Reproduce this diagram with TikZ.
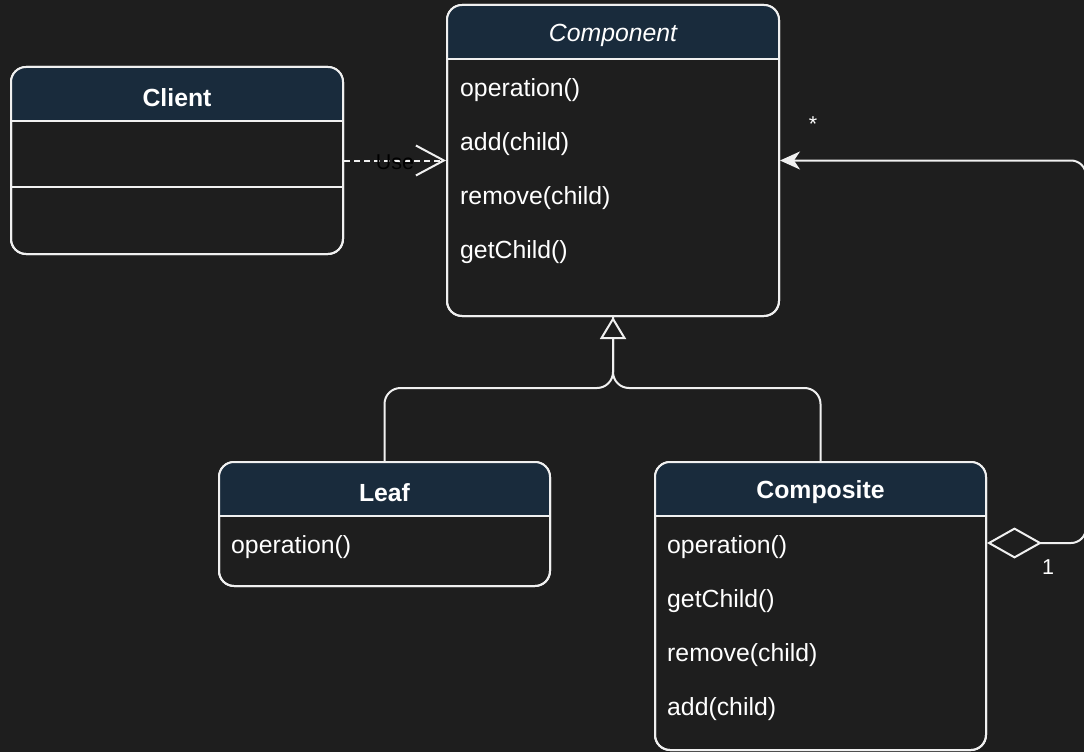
\documentclass[tikz,border=0pt]{standalone}
\usepackage{fontspec}
\setmainfont{Liberation Sans}
\usetikzlibrary{arrows.meta}
\definecolor{bgc}{RGB}{30,30,30}
\definecolor{hdrc}{RGB}{25,43,60}
\definecolor{edgec}{RGB}{240,240,240}
\begin{document}
\begin{tikzpicture}[x=1pt,y=-1pt,
  classbox/.style={draw=edgec, line width=2pt, rounded corners=15pt, inner sep=0pt, fill=bgc},
  hdr/.style={fill=hdrc},
  divider/.style={draw=edgec, line width=2pt},
  title/.style={text=white, font=\fontsize{24.8}{28}\selectfont\bfseries, inner sep=0pt},
  ititle/.style={text=white, font=\fontsize{24.8}{28}\selectfont\itshape, inner sep=0pt},
  member/.style={text=white, font=\fontsize{24.8}{28}\selectfont, anchor=west, inner sep=0pt},
  wire/.style={draw=edgec, line width=2pt},
  lbl/.style={text=white, font=\fontsize{21.5}{24}\selectfont, inner sep=0pt}
]
\useasboundingbox (0,0) rectangle (1084,752);
\fill[bgc] (0,0) rectangle (1084,752);

% ---- Client ----
\node[classbox, minimum width=332pt, minimum height=187pt] (client) at (177,160.5) {};
\begin{scope}
  \clip[rounded corners=15pt] (11,67) rectangle (343,254);
  \fill[hdr] (11,67) rectangle (343,121);
\end{scope}
\draw[classbox, fill=none] (11,67) rectangle (343,254);
\draw[divider] (11,121) -- (343,121);
\draw[divider] (11,187) -- (343,187);
\node[title] (clientT) at (177,97.5) {Client};

% ---- Component ----
\node[classbox, minimum width=332pt, minimum height=311pt] (component) at (613,160.5) {};
\begin{scope}
  \clip[rounded corners=15pt] (447,5) rectangle (779,316);
  \fill[hdr] (447,5) rectangle (779,59);
\end{scope}
\draw[classbox, fill=none] (447,5) rectangle (779,316);
\draw[divider] (447,59) -- (779,59);
\node[ititle] (componentT) at (613,35.5) {Component};
\node[member] (cm1) at (460,90) {operation()};
\node[member] (cm2) at (460,144) {add(child)};
\node[member] (cm3) at (460,198) {remove(child)};
\node[member] (cm4) at (460,252) {getChild()};

% ---- Leaf ----
\node[classbox, minimum width=331pt, minimum height=124pt] (leaf) at (384.5,524) {};
\begin{scope}
  \clip[rounded corners=15pt] (219,462) rectangle (550,586);
  \fill[hdr] (219,462) rectangle (550,516);
\end{scope}
\draw[classbox, fill=none] (219,462) rectangle (550,586);
\draw[divider] (219,516) -- (550,516);
\node[title] (leafT) at (384.5,492.5) {Leaf};
\node[member] (lm1) at (231,547) {operation()};

% ---- Composite ----
\node[classbox, minimum width=331pt, minimum height=288pt] (composite) at (820.5,606) {};
\begin{scope}
  \clip[rounded corners=15pt] (655,462) rectangle (986,750);
  \fill[hdr] (655,462) rectangle (986,516);
\end{scope}
\draw[classbox, fill=none] (655,462) rectangle (986,750);
\draw[divider] (655,516) -- (986,516);
\node[title] (compositeT) at (820.5,492.5) {Composite};
\node[member] (pm1) at (667,547) {operation()};
\node[member] (pm2) at (667,601) {getChild()};
\node[member] (pm3) at (667,655) {remove(child)};
\node[member] (pm4) at (667,709) {add(child)};

% ---- Client uses Component ----
\draw[wire, dashed, dash pattern=on 6pt off 4pt, -{Straight Barb[length=28pt, width=30pt, line width=2pt]}]
  (client.east) -- node[lbl, text=black, yshift=-2pt] (useL) {Use} (component.west);

% ---- Leaf and Composite generalize Component ----
\draw[wire, rounded corners=16pt] (leaf.north) -- ++(0,-73) -| (component.south);
\draw[wire, rounded corners=16pt, -{Triangle[open, length=22pt, width=26pt, fill=bgc]}]
  (composite.north) -- ++(0,-73) -| (component.south);

% ---- Composite aggregates Component children ----
\coordinate (aggR) at (1086,543);
\draw[wire, rounded corners=15pt,
      {Diamond[open, length=55pt, width=31pt, fill=bgc]}-{Stealth[length=20pt, width=18pt, inset=6pt]}]
  (composite.east |- aggR) -- (aggR) -- (aggR |- component.east) -- (component.east);
\node[lbl] (many) at (813,124) {*};
\node[lbl] (one) at (1048,567) {1};
\end{tikzpicture}
\end{document}
